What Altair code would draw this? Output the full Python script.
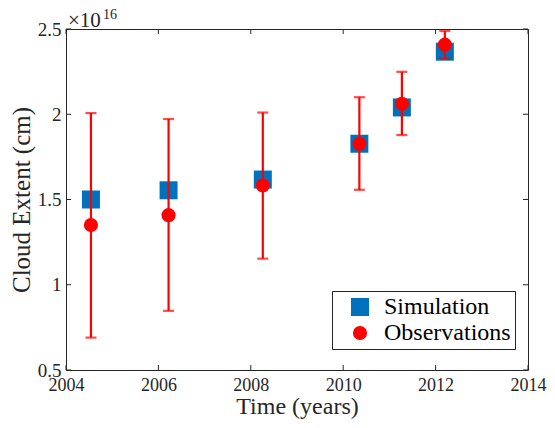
import altair as alt
import pandas as pd

years = [2004.54, 2006.22, 2008.26, 2010.35, 2011.27, 2012.20]
sim = [1.500, 1.554, 1.617, 1.827, 2.040, 2.367]
obs = [1.350, 1.408, 1.582, 1.827, 2.061, 2.408]
obs_hi = [2.007, 1.972, 2.010, 2.100, 2.249, 2.488]
obs_lo = [0.690, 0.847, 1.153, 1.557, 1.878, 2.326]
x_ticks = [2004, 2006, 2008, 2010, 2012, 2014]
y_ticks = [0.5, 1.0, 1.5, 2.0, 2.5]
series = ["Simulation", "Observations"]

W, H = 462, 341
FONT = "Liberation Serif"
AX = "#262626"

sim_df = pd.DataFrame({"year": years, "value": sim, "series": series[0]})
obs_df = pd.DataFrame({"year": years, "value": obs, "hi": obs_hi, "lo": obs_lo, "series": series[1]})
xt_df = pd.DataFrame({"year": x_ticks})
yt_df = pd.DataFrame({"value": y_ticks})

xscale = alt.Scale(domain=[2004, 2014], nice=False, zero=False)
yscale = alt.Scale(domain=[0.5, 2.5], nice=False, zero=False)
xaxis = alt.Axis(values=x_ticks, format="d", title="Time (years)", ticks=False,
                 domain=False, grid=False, labelPadding=6, titlePadding=0,
                 labelFlush=False, labelOverlap=False,
                 labelFont=FONT, labelFontSize=18, labelColor=AX,
                 titleFont=FONT, titleFontSize=24, titleFontWeight="normal", titleColor=AX)
yaxis = alt.Axis(values=y_ticks, format="~g", title="Cloud Extent (cm)", ticks=False,
                 domain=False, grid=False, labelPadding=5, titlePadding=3,
                 labelFlush=False, labelOverlap=False,
                 labelFont=FONT, labelFontSize=19, labelColor=AX,
                 titleFont=FONT, titleFontSize=25, titleFontWeight="normal", titleColor=AX)


def X(field):
    return alt.X(field, scale=xscale, axis=xaxis)


def Y(field):
    return alt.Y(field, scale=yscale, axis=yaxis)


color = alt.Color("series:N", scale=alt.Scale(domain=series, range=["#0072BD", "#FF0000"]),
                  legend=alt.Legend(title=None))
shape = alt.Shape("series:N", scale=alt.Scale(domain=series, range=["square", "circle"]),
                  legend=alt.Legend(title=None))
size = alt.Size("series:N", scale=alt.Scale(domain=series, range=[324, 200]),
                legend=alt.Legend(title=None))

squares = alt.Chart(sim_df).mark_point(filled=True, opacity=1).encode(
    x=X("year:Q"), y=Y("value:Q"), color=color, shape=shape, size=size)

err = alt.Chart(obs_df).mark_rule(color="#FF0000", strokeWidth=2.2).encode(
    x=X("year:Q"), y=Y("lo:Q"), y2="hi:Q")
cap_hi = alt.Chart(obs_df).mark_tick(color="#FF0000", orient="horizontal", size=11, thickness=2.2).encode(
    x=X("year:Q"), y=Y("hi:Q"))
cap_lo = alt.Chart(obs_df).mark_tick(color="#FF0000", orient="horizontal", size=11, thickness=2.2).encode(
    x=X("year:Q"), y=Y("lo:Q"))

circles = alt.Chart(obs_df).mark_point(filled=True, opacity=1).encode(
    x=X("year:Q"), y=Y("value:Q"), color=color, shape=shape, size=size)

xt_bot = alt.Chart(xt_df).mark_rule(color=AX, strokeWidth=1).encode(
    x=X("year:Q"), y=alt.value(H), y2=alt.value(H - 5))
xt_top = alt.Chart(xt_df).mark_rule(color=AX, strokeWidth=1).encode(
    x=X("year:Q"), y=alt.value(0), y2=alt.value(5))
yt_left = alt.Chart(yt_df).mark_rule(color=AX, strokeWidth=1).encode(
    y=Y("value:Q"), x=alt.value(0), x2=alt.value(5))
yt_right = alt.Chart(yt_df).mark_rule(color=AX, strokeWidth=1).encode(
    y=Y("value:Q"), x=alt.value(W - 5), x2=alt.value(W))

exp_base = alt.Chart(pd.DataFrame({"t": ["×10"]})).mark_text(
    font=FONT, fontSize=21, align="left", baseline="alphabetic", color=AX).encode(
    text="t:N", x=alt.value(2), y=alt.value(-2))
exp_pow = alt.Chart(pd.DataFrame({"t": ["16"]})).mark_text(
    font=FONT, fontSize=14, align="left", baseline="alphabetic", color=AX).encode(
    text="t:N", x=alt.value(37), y=alt.value(-10))

chart = alt.layer(
    squares, err, cap_hi, cap_lo, circles,
    xt_bot, xt_top, yt_left, yt_right, exp_base, exp_pow
).resolve_scale(color="shared", shape="shared", size="shared").properties(
    width=W, height=H,
    autosize=alt.AutoSizeParams(type="none"),
    padding={"left": 58, "top": 21, "right": 19, "bottom": 50},
).configure_view(
    stroke=AX, strokeWidth=1
).configure_legend(
    orient="none", legendX=266, legendY=262,
    fillColor="white", strokeColor=AX, padding=4,
    labelFont=FONT, labelFontSize=24, labelColor="black",
    symbolOffset=12, labelOffset=12, rowPadding=2, symbolStrokeWidth=0,
)

chart.save("out.html", embed_options={"renderer": "svg", "actions": False})
